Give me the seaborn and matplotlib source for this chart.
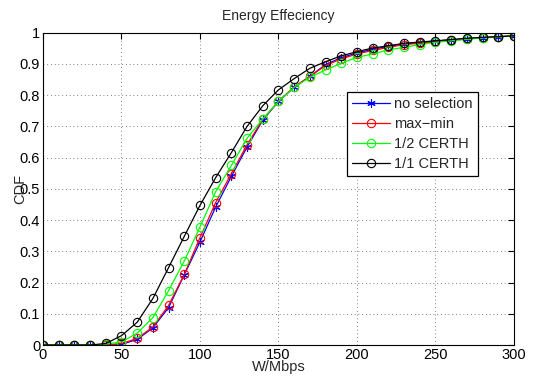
import numpy as np
import matplotlib
matplotlib.use("Agg")
import matplotlib.pyplot as plt
import seaborn as sns

# x positions (W/Mbps), one marker every 10
w_mbps = list(range(0, 310, 10))

# CDF values
no_selection = [0, 0, 0, 0, 0, 0.002, 0.018, 0.055, 0.12, 0.225, 0.33, 0.442,
                0.54, 0.634, 0.72, 0.78, 0.825, 0.86, 0.898, 0.92, 0.935, 0.947,
                0.956, 0.964, 0.969, 0.973, 0.977, 0.981, 0.984, 0.987, 0.99]
max_min = [0, 0, 0, 0, 0, 0.005, 0.021, 0.058, 0.127, 0.226, 0.344, 0.456,
           0.549, 0.641, 0.723, 0.78, 0.827, 0.86, 0.895, 0.916, 0.932, 0.943,
           0.953, 0.962, 0.966, 0.971, 0.975, 0.98, 0.984, 0.987, 0.99]
half_certh = [0, 0, 0, 0, 0.003, 0.01, 0.038, 0.088, 0.174, 0.269, 0.378, 0.491,
              0.575, 0.662, 0.724, 0.78, 0.825, 0.857, 0.881, 0.902, 0.921, 0.932,
              0.945, 0.953, 0.962, 0.969, 0.974, 0.979, 0.983, 0.986, 0.99]
full_certh = [0, 0, 0, 0, 0.005, 0.03, 0.073, 0.149, 0.248, 0.348, 0.447, 0.536,
              0.616, 0.70, 0.766, 0.817, 0.853, 0.886, 0.907, 0.926, 0.939, 0.951,
              0.958, 0.966, 0.97, 0.974, 0.978, 0.982, 0.985, 0.987, 0.99]

labels = ["no selection", "max\u2212min", "1/2 CERTH", "1/1 CERTH"]
colors = ["#0000ff", "#ff0000", "#00ff00", "#000000"]
markers = [(6, 2, 0), "o", "o", "o"]
series = [no_selection, max_min, half_certh, full_certh]

sns.set_style("white")
plt.rcParams["font.family"] = ["Liberation Sans", "DejaVu Sans"]
plt.rcParams["font.size"] = 10

fig = plt.figure(figsize=(5.42, 3.80), dpi=100)
ax = fig.add_axes([0.0793, 0.092, 0.869, 0.822])

for vals, lab, col, mk in zip(series, labels, colors, markers):
    sns.lineplot(x=w_mbps, y=vals, ax=ax, label=lab, color=col, marker=mk,
                 markersize=6, markerfacecolor="none", markeredgecolor=col,
                 markeredgewidth=0.8, linewidth=0.9)

ax.set_xlim(0, 300)
ax.set_ylim(0, 1)
ax.set_xticks(range(0, 301, 50))
ax.set_yticks(np.arange(0, 1.01, 0.1))
ax.set_yticklabels(["0", "0.1", "0.2", "0.3", "0.4", "0.5", "0.6", "0.7",
                    "0.8", "0.9", "1"])
ax.grid(True, linestyle=(0, (1, 3.5)), color="#555555", linewidth=0.6)
ax.tick_params(direction="in", length=4, top=True, right=True,
               labelsize=10.5, pad=2, colors="black")
for sp in ax.spines.values():
    sp.set_color("black")
    sp.set_linewidth(0.8)

ax.set_title("Energy Effeciency", fontsize=10, pad=9)
ax.set_xlabel("W/Mbps", fontsize=10.5, labelpad=-1)
ax.set_ylabel("CDF", fontsize=10.5)
ax.yaxis.set_label_coords(-0.033, 0.5)

leg = ax.legend(loc="upper left", bbox_to_anchor=(0.645, 0.81), fontsize=10.5,
                frameon=True, fancybox=False, edgecolor="black",
                framealpha=1, handlelength=2.6, borderpad=0.35,
                labelspacing=0.4, handletextpad=0.3, borderaxespad=0)
leg.get_frame().set_linewidth(0.9)

fig.savefig("out.png", dpi=100)
